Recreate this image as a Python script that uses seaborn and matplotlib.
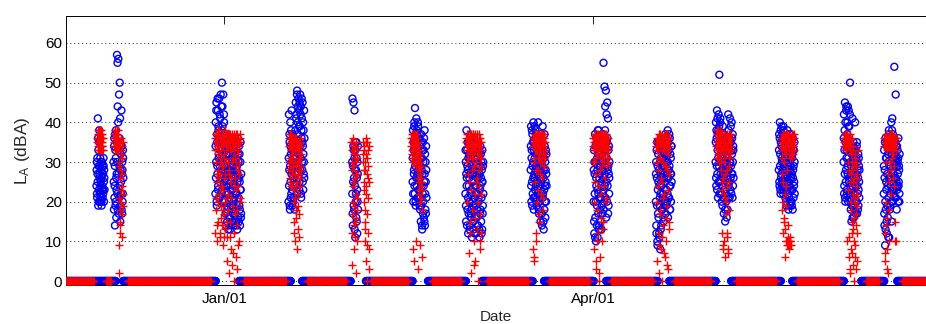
import matplotlib
matplotlib.use("Agg")
import matplotlib.pyplot as plt
import matplotlib.dates as mdates
import pandas as pd
import seaborn as sns

# ---------------- data ----------------
X_RANGE = ("2010-11-23 09:36", "2011-06-21 02:24")
Y_RANGE = (-1.0, 66.8)
Y_TICKS = [0, 10, 20, 30, 40, 50, 60]
X_LABEL = "Date"
Y_LABEL = r"$\mathregular{L_A}$ (dBA)"
STEP = "1h"        # sampling interval of the cluster series
ZERO_STEP = "3h"   # sampling interval of the zero-level records

BLUE_ZERO_SEGMENTS = [
    ("2010-11-23 12:00", "2010-12-05 14:00"),
    ("2010-12-07 07:00", "2010-12-30 00:00"),
    ("2011-01-04 14:00", "2011-01-17 06:00"),
    ("2011-01-19 23:00", "2011-01-31 22:00"),
    ("2011-02-04 13:00", "2011-02-16 00:00"),
    ("2011-02-19 16:00", "2011-02-28 23:00"),
    ("2011-03-04 20:00", "2011-03-17 07:00"),
    ("2011-03-19 23:00", "2011-04-01 04:00"),
    ("2011-04-04 02:00", "2011-04-16 19:00"),
    ("2011-04-19 11:00", "2011-04-30 22:00"),
    ("2011-05-04 14:00", "2011-05-16 19:00"),
    ("2011-05-19 11:00", "2011-06-01 04:00"),
    ("2011-06-05 07:00", "2011-06-10 22:00"),
    ("2011-06-14 02:00", "2011-06-22 00:00"),
]
RED_ZERO_SEGMENTS = [
    ("2010-11-23 12:00", "2010-11-30 05:00"),
    ("2010-12-03 04:00", "2010-12-04 09:00"),
    ("2010-12-08 12:00", "2010-12-28 18:00"),
    ("2011-01-05 19:00", "2011-01-16 01:00"),
    ("2011-01-21 04:00", "2011-01-30 16:00"),
    ("2011-02-05 19:00", "2011-02-14 19:00"),
    ("2011-02-20 16:00", "2011-02-27 18:00"),
    ("2011-03-06 02:00", "2011-03-16 02:00"),
    ("2011-03-21 05:00", "2011-03-30 23:00"),
    ("2011-04-05 08:00", "2011-04-15 13:00"),
    ("2011-04-20 16:00", "2011-04-29 17:00"),
    ("2011-05-05 19:00", "2011-05-15 13:00"),
    ("2011-05-20 16:00", "2011-05-30 22:00"),
    ("2011-06-06 12:00", "2011-06-09 16:00"),
    ("2011-06-15 07:00", "2011-06-22 00:00"),
]

BLUE_STARTS = ["2010-11-30 20:00", "2010-12-05 00:00", "2010-12-29 20:00",
               "2011-01-16 16:00", "2011-02-01 04:00", "2011-02-15 22:00",
               "2011-02-28 19:00", "2011-03-16 17:00", "2011-04-01 01:00",
               "2011-04-16 05:00", "2011-04-30 19:00", "2011-05-16 05:00",
               "2011-06-01 00:00", "2011-06-10 19:00"]
RED_STARTS = ["2010-12-01 00:00", "2010-12-05 02:00", "2010-12-29 18:00",
              "2011-01-16 18:00", "2011-02-01 00:00", "2011-02-03 20:00",
              "2011-02-15 14:00", "2011-03-01 00:00", "2011-03-17 07:00",
              "2011-03-31 22:00", "2011-04-16 08:00", "2011-05-01 00:00",
              "2011-05-16 19:00", "2011-06-01 03:00", "2011-06-10 22:00"]

BLUE_01 = [24, 28, 30, 22, 21, 31, 27, 25, 41, 36, 19, 33, 29, 20, 23, 35, 38, 27,
           26, 22, 20, 29, 31, 24, 25, 21, 22, 30, 28, 20, 19, 26, 30, 23, 24, 29,
           21, 27, 27, 22, 23, 31, 29, 25, 20, 28, 26, 23]
BLUE_02 = [30, 25, 18, 34, 36, 21, 24, 29, 14, 37, 33, 19, 20, 31, 38, 26, 16, 23,
           27, 35, 57, 30, 22, 55, 44, 18, 35, 40, 56, 27, 17, 33, 47, 21, 29, 36,
           50, 24, 41, 15, 19, 28, 32, 22, 25, 34, 43, 18, 34, 27, 17, 30, 28, 20,
           22, 33, 31, 26]
BLUE_03 = [22, 34, 40, 26, 30, 43, 45, 20, 19, 37, 35, 29, 27, 46, 43, 23, 24, 39,
           38, 31, 32, 21, 46, 35, 21, 42, 29, 25, 41, 33, 36, 47, 26, 30, 44, 22,
           33, 38, 50, 27, 23, 44, 39, 32, 28, 20, 47, 36, 31, 24, 42, 40, 25, 34,
           37, 28,
           20, 29, 33, 17, 26, 35, 14, 24, 30, 19, 22, 32, 35, 15, 18, 27, 28, 34,
           24, 13, 32, 22, 16, 30, 27, 20, 21, 36, 34, 16, 13, 28, 29, 23, 19, 33,
           25, 14, 31, 26, 15, 35, 23, 18, 36, 29, 17, 24, 28, 32, 20, 15, 33, 27,
           14, 21, 26, 34, 30, 17, 18, 31, 24, 22, 35, 14, 15, 28, 22, 33, 29, 19,
           13, 25, 27, 36, 32, 20, 16, 30, 21, 15, 34, 26, 19, 32, 25, 18, 14, 23,
           30, 35, 23, 16, 17, 27]
BLUE_04 = [20, 31, 42, 24, 28, 37, 35, 19, 18, 29, 40, 34, 25, 21, 32, 38, 22, 27,
           43, 33, 30, 23, 19, 35, 37, 28, 26, 20, 33, 36, 21, 30, 29, 25, 36, 18,
           24, 33, 31, 27,
           38, 30, 45, 24, 27, 41, 42, 35, 33, 47, 48, 29, 22, 37, 40, 44, 35, 26,
           46, 32, 29, 39, 43, 23, 25, 45, 39, 34, 47, 28, 31, 42, 44, 22, 21, 38,
           36, 46, 41, 30, 28, 35, 45, 25, 34, 40, 23, 32, 38, 27, 30, 43, 26, 36]
BLUE_05 = [30, 22, 46, 17, 14, 29, 25, 34, 45, 19, 33, 26, 18, 31, 43, 13, 28, 24,
           11, 33, 35, 20, 22, 28, 16, 35, 31, 15, 26, 23, 12, 30, 20, 27, 34, 18]
BLUE_06 = [25, 31, 38, 22, 20, 35, 33, 27, 28, 39, 40, 24, 22, 34, 43.6, 29, 35, 20,
           19, 37, 30, 26, 41, 32, 24, 38, 37, 21, 27, 33, 21, 40, 39, 28, 32, 23,
           26, 36, 36, 30, 23, 19,
           34, 26, 18, 31, 29, 21, 15, 35, 37, 19, 24, 28, 31, 14, 13, 33, 27, 22,
           35, 17, 20, 30, 33, 24, 16, 36, 25, 15, 38, 27, 14, 32, 22, 18, 30, 25,
           17, 34, 28, 21]
BLUE_07 = [22, 33, 30, 19, 15, 27, 38, 24, 26, 14, 33, 29, 18, 35, 28, 21, 12, 31,
           35, 17, 24, 32, 20, 26, 31, 13, 14, 34, 27, 22, 34, 16, 17, 30, 23, 36,
           29, 18, 11, 25, 32, 20, 25, 33, 19, 28, 36, 15, 13, 27, 28, 34, 21, 12,
           33, 24, 16, 31, 30, 19, 24, 35, 12, 22, 27, 29, 35, 16, 18, 26, 22, 33,
           31, 14, 14, 28, 26, 21, 20, 32, 33, 13, 11, 27, 29, 23, 17, 34, 24, 18,
           32, 26, 15, 30, 21, 12, 28, 25, 13, 33, 25, 17, 19, 29, 30, 22]
BLUE_08 = [28, 34, 39, 24, 20, 31, 33, 38, 25, 19, 37, 29, 22, 35, 30, 26, 40, 21,
           18, 33, 35, 27, 26, 39, 31, 23, 21, 36, 38, 28, 24, 32, 29, 20, 34, 37,
           19, 25, 36, 30, 27, 22, 23, 35, 40, 29, 32, 18, 17, 33, 28, 24, 35, 20,
           21, 31, 30, 26, 15, 36, 37, 22, 25, 30, 33, 17, 14, 27, 29, 35, 39, 21,
           22, 32, 26, 15, 13, 28, 31, 23, 18, 37, 34, 20, 24, 30, 16, 25, 28, 33,
           20, 27, 32, 24]
BLUE_09 = [20, 28, 33, 15, 12, 30, 27, 22, 37, 11, 16, 34, 30, 20, 10, 26, 24, 36,
           35, 14, 19, 31, 28, 23, 11, 38, 32, 17, 22, 29, 38, 13, 14, 33, 26, 21,
           34, 27, 18, 36, 29, 15, 21, 32, 36, 24, 13, 30, 25, 19, 31, 37, 17, 28,
           37, 22, 23, 35, 55, 18, 30, 26, 20, 33, 49, 24, 27, 38, 44, 21, 33, 29,
           48, 35, 16, 25, 42, 31, 35, 20, 45, 36, 24, 28, 41, 17, 29, 33, 19, 27,
           34, 22, 26, 30]
BLUE_10 = [20, 27, 30, 14, 12, 33, 26, 19, 35, 10, 9, 29, 23, 17, 32, 25, 16, 35,
           28, 12, 11, 24, 34, 19, 21, 30, 8, 22, 27, 13, 31, 26, 14, 34, 24, 18,
           33, 28, 18, 36, 29, 21, 22, 31, 36, 16, 15, 26, 27, 33, 32, 20, 19, 29,
           25, 35, 37, 23, 17, 31, 30, 19, 23, 34, 35, 26, 20, 32, 28, 22, 38, 30,
           16, 35, 26, 21, 33, 28, 21, 37, 29, 24, 36, 18, 18, 32, 24, 27, 31, 20,
           27, 34, 34, 25]
BLUE_11 = [30, 35, 40, 26, 24, 38, 36, 29, 43, 23, 27, 41, 33, 37, 21, 31, 38, 25,
           42, 34, 29, 39, 52, 22, 35, 30, 25, 40, 41, 27, 31, 36, 22, 33, 37, 20,
           28, 35, 34, 24, 19, 31, 39, 27, 26, 21, 32, 37, 17, 29, 36, 23, 23, 33,
           30, 18, 15, 28, 27, 22, 34, 30, 20, 36, 29, 16, 25, 32, 33, 26, 18, 35,
           31, 21, 42, 28, 24, 38, 28, 33, 36, 25, 21, 30, 41, 35, 30, 23, 26, 39,
           35, 29, 22, 33, 40, 27, 32, 36, 27, 21, 37, 30, 24, 34, 33, 26]
BLUE_12 = [28, 33, 37, 25, 24, 36, 40, 29, 32, 23, 22, 38, 35, 26, 27, 34, 39, 31,
           30, 24, 25, 37, 36, 28, 33, 22, 23, 39, 38, 30, 29, 25, 34, 36, 26, 32,
           31, 24, 21, 35, 36, 27, 28, 20, 19, 31, 33, 26, 25, 36, 38, 23, 22, 29,
           30, 34, 18, 25, 35, 21, 27, 33, 24, 37, 32, 19, 20, 28, 37, 31, 29, 23,
           26, 35, 34, 20, 19, 27, 31, 32, 23, 18, 36, 26, 28, 33, 21, 29, 33, 24,
           25, 35, 30, 22]
BLUE_13 = [30, 36, 42, 22, 24, 33, 38, 27, 45, 21, 20, 40, 35, 25, 28, 43, 44, 31,
           33, 23, 22, 37, 40, 29, 27, 44, 36, 20, 31, 39, 43, 26, 25, 34, 39, 22,
           21, 42, 50, 30, 34, 20, 18, 27, 29, 23, 15, 33, 32, 19, 24, 30, 41, 16,
           19, 28, 27, 34, 35, 22, 16, 31, 30, 25, 22, 18, 33, 29, 40, 24, 17, 33,
           26, 20, 31, 27, 20, 34, 35, 17, 24, 30, 28, 22, 18, 26, 32, 19, 23, 31,
           29, 25, 21, 28]
BLUE_14 = [22, 29, 33, 17, 14, 26, 28, 35, 9, 20, 36, 13, 18, 31, 25, 23, 31, 15,
           12, 34, 27, 19, 35, 24, 16, 32, 30, 11, 21, 37, 38, 26, 11, 29, 26, 18,
           34, 22, 19, 36, 29, 25, 24, 33, 40, 20, 15, 28, 32, 38, 41, 23, 20, 35,
           37, 27, 27, 31, 23, 22, 33, 36, 54, 26, 29, 32, 21, 24, 35, 30, 47, 21,
           26, 34, 31, 25, 18, 29, 34, 23, 24, 33, 30, 27, 20, 31, 36, 24, 25, 29,
           28, 20, 22, 32]

RED_01 = [35, 36, 37, 34, 33, 38, 36, 35, 38, 33, 34, 37, 35, 36, 37, 34, 33, 35,
          36, 38, 34, 33, 38, 36, 35, 37, 33, 34, 37, 36, 34, 35, 36, 33]
RED_02 = [35, 36, 37, 34, 34, 38, 36, 33, 38, 35, 33, 37, 35, 34, 37, 36, 34, 33,
          36, 38, 35, 34, 38, 36, 33, 35, 36, 29, 2, 34, 9, 21, 30, 14, 12, 35,
          26, 18, 15, 32, 33, 23, 20, 36, 28, 11, 17, 34, 24, 27, 31, 19, 22, 35]
RED_03 = [36, 33, 12, 37, 30, 21, 37, 35, 18, 27, 25, 36, 34, 14, 10, 32, 28, 37,
          38, 20, 15, 34, 33, 26, 22, 38, 36, 12, 11, 30, 27, 36, 35, 16, 19, 33,
          31, 24, 37, 35, 14, 29, 24, 37, 36, 18, 9, 34, 29, 23, 35, 36, 17, 31,
          32, 11, 38, 27, 13, 35, 26, 20, 34, 37, 21, 30, 37, 15, 11, 36,
          36, 33, 5, 36, 30, 18, 37, 34, 22, 36, 35, 27, 2, 37, 28, 35, 36, 11,
          15, 33, 37, 26, 8, 36, 33, 21, 25, 37, 36, 30, 4, 35, 19, 34, 35, 7,
          31, 36, 0, 24, 37, 33, 12, 36, 34, 17, 26, 35, 36, 31, 6, 37, 29, 23,
          35, 36, 18, 33, 37, 14, 3, 36, 32, 28, 24, 35, 36, 9, 10, 34, 35, 30,
          27, 36, 37, 21, 20, 35]
RED_04 = [34, 30, 28, 36, 36, 26, 31, 34, 25, 37, 35, 29, 30, 33, 37, 24, 27, 35,
          33, 31, 24, 36, 36, 28, 29, 34, 32, 23, 20, 35, 35, 12, 15, 30, 27, 36,
          33, 21, 10, 34, 24, 29, 36, 16, 18, 33, 30, 25, 8, 35, 26, 19, 34, 30,
          13, 27, 22, 35, 31, 11, 17, 33, 28, 24, 35, 31, 26, 36, 32, 28, 29, 34]
RED_05A = [35, 30, 12, 33, 28, 17, 4, 35, 33, 24, 20, 29, 36, 14, 8, 32, 25, 19,
           31, 26, 15, 34, 34, 11, 2, 27, 22, 35, 30, 16, 10, 31, 27, 21, 18, 33]
RED_05B = [35, 32, 30, 23, 25, 34, 20, 28, 33, 18, 15, 30, 28, 13, 10, 35, 36, 24,
           5, 32, 22, 27, 31, 9, 17, 35, 0, 21, 26, 33, 12, 29, 34, 3, 8, 25]
RED_06 = [34, 36, 36, 32, 31, 35, 37, 33, 8, 36, 33, 30, 35, 37, 30, 34, 36, 31,
          5, 35, 32, 37, 37, 33, 34, 29, 29, 36, 35, 32, 10, 34, 31, 37, 36, 30,
          33, 35, 3, 31, 30, 26, 28, 33, 34, 23, 25, 30, 22, 28, 31, 20, 27, 32,
          9, 25, 24, 29, 21, 26, 29, 18, 6, 23]
RED_07 = [35, 36, 33, 30, 37, 34, 20, 35, 34, 27, 36, 33, 31, 37, 7, 34, 35, 36,
          25, 32, 37, 35, 32, 12, 15, 34, 34, 37, 36, 23, 2, 35, 33, 36, 28, 31,
          35, 34, 18, 37, 37, 33, 31, 4, 10, 35, 34, 29, 36, 33, 22, 37, 33, 16,
          5, 34, 35, 36, 30, 25, 26, 35, 37, 32, 13, 36, 34, 20, 32, 35, 0, 33,
          36, 28, 24, 37, 33, 34, 17, 31, 35, 10, 8, 36, 31, 33, 29, 22, 12, 35]
RED_08 = [34, 36, 8, 31, 36, 35, 30, 6, 5, 37, 35, 33, 25, 36, 37, 12, 10, 34,
          33, 28, 36, 35, 20, 37, 34, 33, 31, 23, 37, 35, 28, 36, 35, 17, 32, 34,
          15, 37, 36, 31, 33, 35, 30, 27, 37, 34, 22, 36, 34, 33, 35, 30, 31, 37,
          26, 35, 36, 21, 33, 34, 18, 36, 35, 31, 29, 37, 37, 33, 32, 35]
RED_09 = [34, 36, 30, 33, 36, 20, 8, 35, 33, 37, 37, 30, 25, 34, 35, 5, 3, 36,
          31, 27, 36, 33, 18, 37, 34, 10, 37, 35, 12, 32, 32, 36, 35, 2, 0, 34,
          36, 24, 28, 37, 33, 35, 6, 31, 37, 16, 22, 36, 34, 33, 31, 37, 10, 29,
          36, 34, 33, 13, 15, 36, 35, 32, 37, 35, 30, 24, 34, 37, 26, 33, 36, 35,
          32, 21, 35, 36, 20, 34, 37, 31, 33, 36, 29, 35, 36, 33, 34, 30, 31, 36]
RED_10 = [35, 34, 20, 36, 33, 30, 5, 35, 36, 24, 28, 33, 34, 9, 12, 36, 37, 31,
          2, 35, 31, 18, 35, 37, 17, 34, 34, 26, 8, 36, 36, 33, 25, 11, 33, 35,
          0, 30, 35, 36, 30, 21, 14, 34, 37, 33, 22, 7, 34, 36, 6, 29, 36, 35,
          29, 16, 33, 37, 10, 34, 35, 28, 19, 36, 37, 4, 32, 35, 3, 33, 34, 23,
          27, 36, 36, 13, 15, 34]
RED_11 = [34, 36, 37, 33, 31, 38, 35, 32, 36, 34, 33, 37, 38, 31, 30, 35, 35, 36,
          37, 33, 34, 38, 32, 35, 36, 30, 28, 34, 34, 37, 12, 33, 37, 23, 25, 36,
          33, 9, 8, 35, 35, 26, 22, 34, 31, 37, 10, 30, 36, 21, 27, 35, 6, 33,
          34, 17, 20, 36, 32, 12, 11, 34, 37, 28, 24, 35, 33, 8, 7, 36, 35, 25,
          29, 37, 36, 32, 18, 34, 34, 37, 31, 35, 37, 33, 33, 36]
RED_12 = [34, 36, 18, 33, 36, 27, 31, 35, 12, 37, 35, 20, 25, 34, 37, 16, 15, 36,
          33, 30, 22, 35, 36, 13, 6, 33, 34, 24, 19, 37, 32, 10, 10, 35, 37, 9,
          28, 34, 9, 11, 35, 36, 14, 10, 33, 37, 8, 32, 36, 9, 11, 35, 31, 10,
          10, 34, 34, 36, 9, 33, 36, 37, 33, 35, 35, 31, 37, 34, 32, 36, 34, 33,
          36, 35, 33, 37]
RED_13 = [35, 34, 36, 37, 34, 35, 37, 36, 35, 33, 33, 36, 36, 34, 34, 37, 37, 35,
          35, 36, 10, 34, 36, 23, 30, 35, 34, 11, 6, 36, 35, 28, 25, 34, 37, 3,
          2, 33, 32, 20, 18, 35, 8, 27, 28, 15, 36, 30, 12, 7, 22, 34, 4, 25,
          33, 13, 16, 29, 26, 10, 0, 21, 20, 32, 31, 6, 9, 17, 24, 30, 14, 3,
          29, 22, 5, 26, 19, 12, 27, 33]
RED_14 = [36, 34, 12, 35, 34, 7, 5, 36, 35, 30, 20, 34, 37, 14, 8, 35, 33, 36,
          16, 3, 36, 34, 2, 27, 35, 36, 25, 34, 34, 18, 10, 37, 37, 35, 30, 33,
          35, 36, 22, 34, 36, 37, 28, 35, 34, 31, 33, 36, 37, 34, 26, 35, 35, 36,
          32, 34, 36, 29, 24, 35, 34, 36, 15, 10, 35, 34, 10, 36, 36, 33]

BLUE_CLUSTERS = [BLUE_01, BLUE_02, BLUE_03, BLUE_04, BLUE_05, BLUE_06, BLUE_07,
                 BLUE_08, BLUE_09, BLUE_10, BLUE_11, BLUE_12, BLUE_13, BLUE_14]
RED_CLUSTERS = [RED_01, RED_02, RED_03, RED_04, RED_05A, RED_05B, RED_06, RED_07,
                RED_08, RED_09, RED_10, RED_11, RED_12, RED_13, RED_14]


def build_frame(zero_segments, starts, clusters):
    parts = []
    for seg_start, seg_end in zero_segments:
        t = pd.date_range(seg_start, seg_end, freq=ZERO_STEP)
        parts.append(pd.DataFrame({"date": t, "LA": [0.0] * len(t)}))
    for start, vals in zip(starts, clusters):
        t = pd.date_range(start, periods=len(vals), freq=STEP)
        parts.append(pd.DataFrame({"date": t, "LA": vals}))
    return pd.concat(parts, ignore_index=True)


blue_df = build_frame(BLUE_ZERO_SEGMENTS, BLUE_STARTS, BLUE_CLUSTERS)
red_df = build_frame(RED_ZERO_SEGMENTS, RED_STARTS, RED_CLUSTERS)

# ---------------- plot ----------------
sns.set_style("white")
plt.rcParams["font.family"] = ["Liberation Sans", "DejaVu Sans"]
plt.rcParams["mathtext.fontset"] = "custom"
plt.rcParams["mathtext.rm"] = "Liberation Sans"

W, H = 926, 324
fig = plt.figure(figsize=(W / 100, H / 100), dpi=100)
ax = fig.add_axes([66 / W, 1 - 285 / H, 1 - 66 / W, (285 - 16) / H])

sns.scatterplot(data=blue_df, x="date", y="LA", ax=ax, marker="o", s=25,
                facecolor="none", edgecolor="#0000ee", linewidth=1.0,
                legend=False, zorder=3)
sns.scatterplot(data=red_df, x="date", y="LA", ax=ax, marker="+", s=34,
                color="#ff0000", linewidth=1.0, legend=False, zorder=4)

ax.set_xlim(pd.Timestamp(X_RANGE[0]), pd.Timestamp(X_RANGE[1]))
ax.set_ylim(*Y_RANGE)
ax.set_yticks(Y_TICKS)
ax.xaxis.set_major_locator(mdates.MonthLocator(bymonth=[1, 4, 7, 10]))
ax.xaxis.set_major_formatter(mdates.DateFormatter("%b/%d"))

ax.yaxis.grid(True, linestyle=(0, (1, 3)), color="#222222", linewidth=0.7)
ax.xaxis.grid(False)
ax.set_axisbelow(True)

for side in ["top", "left", "bottom"]:
    ax.spines[side].set_visible(True)
    ax.spines[side].set_color("black")
    ax.spines[side].set_linewidth(0.7)
ax.spines["right"].set_visible(False)

ax.tick_params(axis="both", direction="in", length=6, width=0.6,
               labelsize=11, colors="black", top=True, right=False)
ax.tick_params(axis="x", pad=5)
ax.tick_params(axis="y", pad=3)

ax.set_xlabel(X_LABEL, fontsize=11, labelpad=3)
ax.set_ylabel(Y_LABEL, fontsize=12.5, labelpad=9.5)

fig.savefig("out.png", dpi=100)
